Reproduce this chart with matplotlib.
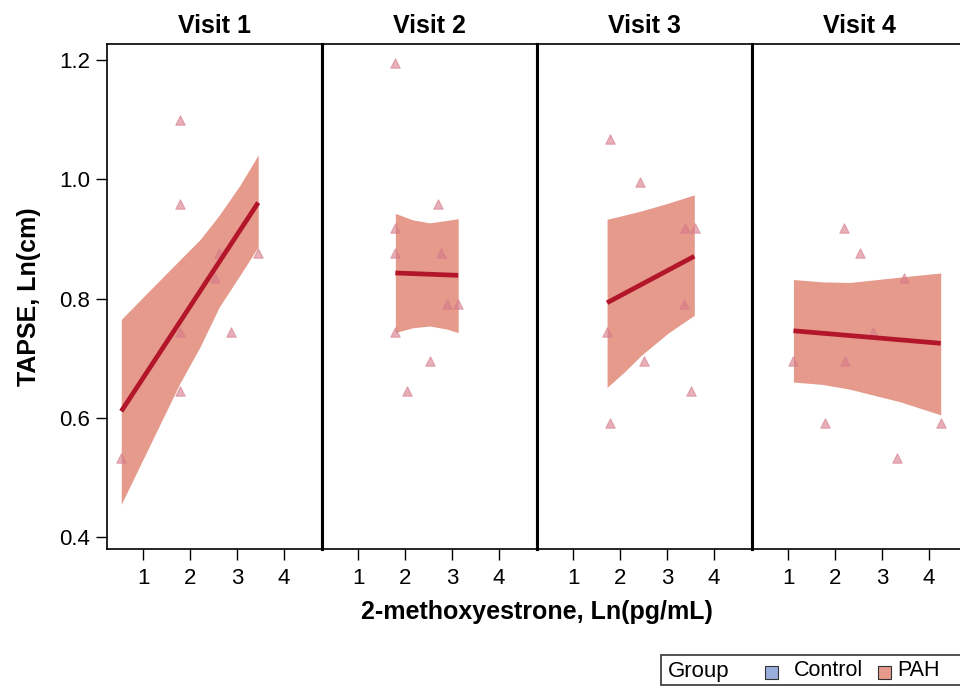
import matplotlib
matplotlib.use('Agg')
import matplotlib.pyplot as plt
from matplotlib.patches import Rectangle

plt.rcParams['font.family'] = ['Liberation Sans', 'DejaVu Sans']

visits = ['Visit 1', 'Visit 2', 'Visit 3', 'Visit 4']

# PAH points per visit (x = Ln 2-methoxyestrone, y = Ln TAPSE)
v1_x = [1.78, 1.78, 2.62, 2.53, 3.45, 1.78, 2.88, 1.78, 0.53]
v1_y = [1.099, 0.958, 0.877, 0.835, 0.877, 0.744, 0.744, 0.645, 0.533]
v2_x = [1.79, 2.69, 1.79, 1.79, 2.77, 2.89, 3.13, 1.79, 2.52, 2.03]
v2_y = [1.195, 0.958, 0.918, 0.877, 0.877, 0.791, 0.791, 0.744, 0.696, 0.645]
v3_x = [1.79, 2.42, 3.38, 3.59, 3.35, 1.72, 2.51, 3.51, 1.79]
v3_y = [1.067, 0.995, 0.918, 0.918, 0.791, 0.744, 0.696, 0.645, 0.591]
v4_x = [2.19, 2.53, 3.46, 2.81, 1.11, 2.21, 1.79, 4.25, 3.31]
v4_y = [0.918, 0.877, 0.835, 0.744, 0.696, 0.696, 0.591, 0.591, 0.533]

# fitted line end points
fit_x = [[0.53, 3.45], [1.79, 3.13], [1.72, 3.58], [1.11, 4.25]]
fit_y = [[0.611, 0.961], [0.843, 0.839], [0.793, 0.871], [0.746, 0.725]]

# confidence band read at a few x positions
band_x = [[0.53, 1.14, 1.78, 2.21, 2.62, 3.06, 3.45],
          [1.79, 2.16, 2.52, 2.88, 3.13],
          [1.72, 2.09, 2.45, 3.02, 3.58],
          [1.11, 1.73, 2.31, 3.38, 4.25]]
band_hi = [[0.765, 0.814, 0.865, 0.899, 0.940, 0.990, 1.041],
           [0.943, 0.932, 0.927, 0.931, 0.934],
           [0.933, 0.940, 0.947, 0.960, 0.974],
           [0.832, 0.828, 0.827, 0.836, 0.843]]
band_lo = [[0.455, 0.554, 0.658, 0.719, 0.786, 0.839, 0.887],
           [0.743, 0.751, 0.754, 0.749, 0.743],
           [0.651, 0.677, 0.705, 0.742, 0.772],
           [0.660, 0.656, 0.648, 0.627, 0.605]]

pts_x = [v1_x, v2_x, v3_x, v4_x]
pts_y = [v1_y, v2_y, v3_y, v4_y]

x_ticks = [1, 2, 3, 4]
y_ticks = [0.4, 0.6, 0.8, 1.0, 1.2]

BAND_C = '#e59a8b'
LINE_C = '#b3162b'
PT_C = '#d77a8a'
CTRL_C = '#9aaedc'

W, H = 960, 689
fig = plt.figure(figsize=(W / 100, H / 100), dpi=100)

left0, top, bot, pw = 107, 44, 549, 215
for i in range(4):
    ax = fig.add_axes([(left0 + i * pw) / W, 1 - bot / H, pw / W, (bot - top) / H])
    ax.fill_between(band_x[i], band_lo[i], band_hi[i], color=BAND_C, lw=0, zorder=1)
    ax.plot(fit_x[i], fit_y[i], color=LINE_C, lw=3.4, solid_capstyle='butt', zorder=3)
    ax.scatter(pts_x[i], pts_y[i], marker='^', s=46, color=PT_C, alpha=0.6,
               edgecolors=PT_C, linewidths=0.8, zorder=2)
    ax.set_xlim(0.226, 4.81)
    ax.set_ylim(0.38, 1.227)
    ax.set_xticks(x_ticks)
    ax.set_xticklabels([str(t) for t in x_ticks])
    ax.tick_params(axis='x', direction='out', length=8, width=1, labelsize=16, pad=6)
    if i == 0:
        ax.set_yticks(y_ticks)
        ax.set_yticklabels(['%.1f' % t for t in y_ticks])
        ax.tick_params(axis='y', direction='out', length=8, width=1, labelsize=16, pad=4)
        ax.set_ylabel('TAPSE, Ln(cm)', fontsize=18, fontweight='bold', labelpad=13)
    else:
        ax.set_yticks([])
    for side, sp in ax.spines.items():
        sp.set_linewidth(1.2)
    if i > 0:
        ax.spines['left'].set_linewidth(2.2)
    if i < 3:
        ax.spines['right'].set_linewidth(2.2)
    ax.set_title(visits[i], fontsize=18, fontweight='bold', pad=8)

fig.text(537 / W, 1 - 612 / H, '2-methoxyestrone, Ln(pg/mL)', fontsize=18,
         fontweight='bold', ha='center', va='center')

# legend drawn by hand, Group title sits left of the entries
fig.add_artist(Rectangle((661 / W, 1 - 685 / H), 310 / W, 30 / H, transform=fig.transFigure,
                         facecolor='white', edgecolor='#333333', lw=1.2))
fig.text(668 / W, 1 - 671 / H, 'Group', fontsize=16, va='center', ha='left')
fig.add_artist(Rectangle((765 / W, 1 - 679 / H), 13 / W, 13 / H, transform=fig.transFigure,
                         facecolor=CTRL_C, edgecolor='#333333', lw=0.8))
fig.text(794 / W, 1 - 671 / H, 'Control', fontsize=15.5, va='center', ha='left')
fig.add_artist(Rectangle((878 / W, 1 - 679 / H), 13 / W, 13 / H, transform=fig.transFigure,
                         facecolor=BAND_C, edgecolor='#333333', lw=0.8))
fig.text(897 / W, 1 - 671 / H, 'PAH', fontsize=15.5, va='center', ha='left')

fig.savefig('out.png', dpi=100)
